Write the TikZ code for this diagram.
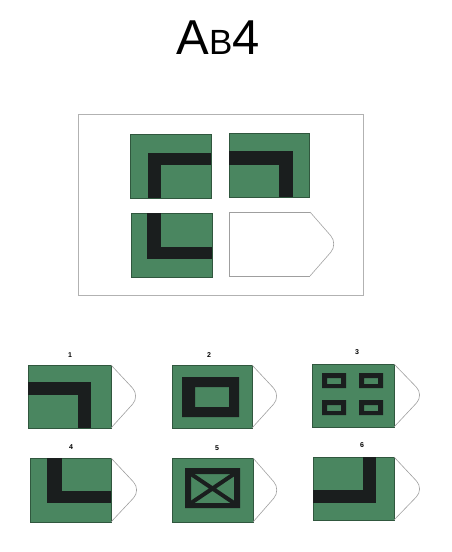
\documentclass[tikz,border=0pt]{standalone}
\usepackage{fontspec}
\setmainfont{Liberation Sans}
\usepackage{xcolor}
\usepackage{tikz}
\usetikzlibrary{positioning}

\definecolor{cardgreen}{RGB}{74,134,96}
\definecolor{bandblack}{RGB}{26,30,30}

\begin{document}
\begin{tikzpicture}[
    x=1pt, y=-1pt,
    tile/.style={fill=cardgreen, draw=cardgreen!65!black, line width=0.7pt},
    band/.style={fill=bandblack},
    tab/.style={draw=gray!75, line width=0.6pt, rounded corners=11pt},
    slot/.style={draw=gray!75, line width=0.6pt},
    num/.style={font=\bfseries\fontsize{7}{8}\selectfont}
]
\useasboundingbox (0,0) rectangle (451,552);

% title
\node (title) at (218,38) {\fontsize{49}{52}\selectfont A\fontsize{35}{38}\selectfont B\fontsize{49}{52}\selectfont 4};

% the matrix
\draw[gray!60, line width=0.8pt] (78,114) rectangle (363,295);
\draw[tile] (130,134) rectangle (211,198);
\fill[band] (148,153) rectangle (211,165);
\fill[band] (148,153) rectangle (161,198);
\draw[tile] (229,133) rectangle (309,197);
\fill[band] (229,151) rectangle (293,165);
\fill[band] (279,151) rectangle (293,197);
\draw[tile] (131,213) rectangle (212,277);
\fill[band] (147,213) rectangle (161,259);
\fill[band] (147,247) rectangle (212,259);
\draw[slot] (310,212) -- (229,212) -- (229,276) -- (310,276);
\draw[tab] (310,212) -- (338,244) -- (310,276);

% answer 1
\node[num] (n1) at (70,355) {1};
\draw[tile] (28,365) rectangle (111,428);
\fill[band] (28,382) rectangle (91,395);
\fill[band] (78,382) rectangle (91,428);
\draw[tab] (111,365) -- (140,396) -- (111,428);

% answer 2
\node[num] (n2) at (209,355) {2};
\draw[tile] (172,365) rectangle (252,428);
\fill[band, even odd rule] (182,377) rectangle (239,417) (195,387) rectangle (229,407);
\draw[tab] (252,365) -- (281,396) -- (252,428);

% answer 3
\node[num] (n3) at (357,352) {3};
\draw[tile] (312,364) rectangle (394,427);
\foreach \cx/\cy in {322/373, 359/373, 322/400, 359/400}
  \fill[band, even odd rule] (\cx,\cy) rectangle ++(24,15) (\cx+5,\cy+5) rectangle ++(14,6);
\draw[tab] (394,364) -- (424,395) -- (394,427);

% answer 4
\node[num] (n4) at (71,447) {4};
\draw[tile] (30,458) rectangle (111,522);
\fill[band] (47,458) rectangle (62,503);
\fill[band] (47,491) rectangle (111,503);
\draw[tab] (111,458) -- (141,490) -- (111,522);

% answer 5
\node[num] (n5) at (217,448) {5};
\draw[tile] (172,458) rectangle (253,522);
\begin{scope}
  \clip (185,468) rectangle (240,508);
  \fill[band, even odd rule] (185,468) rectangle (240,508) (191,474) rectangle (234,503);
  \draw[bandblack, line width=4pt] (191,474) -- (234,503) (191,503) -- (234,474);
\end{scope}
\draw[tab] (253,458) -- (281,490) -- (253,522);

% answer 6
\node[num] (n6) at (362,445) {6};
\draw[tile] (313,457) rectangle (394,520);
\fill[band] (363,457) rectangle (376,503);
\fill[band] (313,490) rectangle (376,503);
\draw[tab] (394,457) -- (424,489) -- (394,520);
\end{tikzpicture}
\end{document}
